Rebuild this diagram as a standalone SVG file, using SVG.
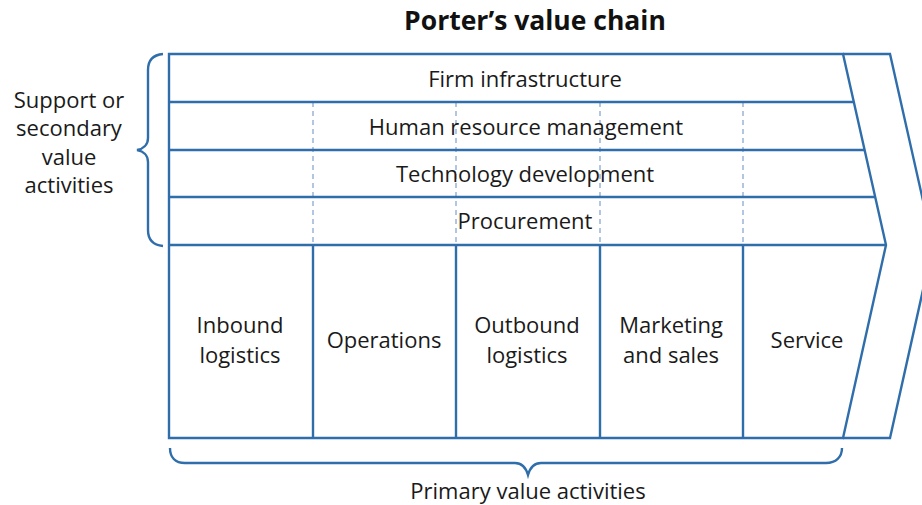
<svg xmlns="http://www.w3.org/2000/svg" width="922" height="505" viewBox="0 0 922 505">
<style>
.ln{fill:none;stroke:#2f6eab;stroke-width:2.4;stroke-linejoin:miter}
.ds{fill:none;stroke:#9bb4d8;stroke-width:1.5;stroke-dasharray:5 4}
.t{font-family:"Open Sans","Noto Sans","Liberation Sans",sans-serif;font-size:22px;fill:#1a1a1a;text-anchor:middle}
.h{font-family:"Open Sans","Noto Sans","Liberation Sans",sans-serif;font-size:26.5px;font-weight:bold;fill:#111;text-anchor:middle}
</style>
<rect width="922" height="505" fill="#fff"/>
<text class="h" x="535" y="30">Porter’s value chain</text>
<g id="connectors">
<path class="ds" d="M313,102V245M456,102V245M600,102V245M743,102V245"/>
<path class="ln" d="M169,54H843L886,245L843,438H169Z"/>
<path class="ln" d="M843,54H890L933,245L890,438H843"/>
<path class="ln" d="M169,102H854M169,150H865M169,197H875M169,245H886"/>
<path class="ln" d="M313,245V438M456,245V438M600,245V438M743,245V438"/>
<path class="ln" d="M163,54C152,55 148,61 148,70V138C148,145 143,149 137,150C143,151 148,155 148,162V230C148,239 152,245 163,246"/>
<path class="ln" d="M170,448C170,457 175,463 185,463H515C522,463 526,468 528,475C530,468 534,463 541,463H826C836,463 842,457 842,448"/>
</g>
<g id="firm"><text class="t" x="525" y="87">Firm infrastructure</text></g>
<g id="hrm"><text class="t" x="526" y="135">Human resource management</text></g>
<g id="tech"><text class="t" x="525" y="182">Technology development</text></g>
<g id="proc"><text class="t" x="525" y="229">Procurement</text></g>
<g id="inbound"><text class="t" x="240" y="333">Inbound</text><text class="t" x="240" y="363">logistics</text></g>
<g id="operations"><text class="t" x="384" y="348">Operations</text></g>
<g id="outbound"><text class="t" x="527" y="333">Outbound</text><text class="t" x="527" y="363">logistics</text></g>
<g id="marketing"><text class="t" x="671" y="333">Marketing</text><text class="t" x="671" y="363">and sales</text></g>
<g id="service"><text class="t" x="807" y="348">Service</text></g>
<g id="support"><text class="t" x="69" y="108">Support or</text><text class="t" x="69" y="136">secondary</text><text class="t" x="69" y="165">value</text><text class="t" x="69" y="193">activities</text></g>
<g id="primary"><text class="t" x="528" y="499">Primary value activities</text></g>
</svg>
